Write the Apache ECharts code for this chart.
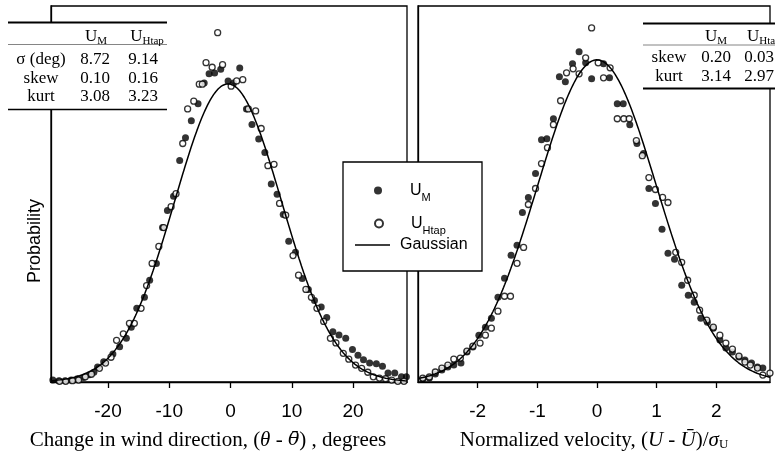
<!DOCTYPE html>
<html>
<head>
<meta charset="utf-8">
<script src="https://cdn.jsdelivr.net/npm/echarts@6/dist/echarts.min.js"></script>
<style>
  html, body { margin: 0; padding: 0; background: #fff; }
  #chart { width: 775px; height: 456px; }
</style>
</head>
<body>
<div id="chart"></div>
<script>
// Wind direction change histogram: [θ - θ̄ (degrees), probability density]
const dirMeasured = [
  [-29.0, 0.0003], [-28.0, 0.0002], [-27.0, 0.0002], [-26.0, 0.0003], [-25.0, 0.0005],
  [-24.0, 0.0007], [-23.0, 0.0011], [-22.3, 0.0015], [-21.7, 0.0023], [-20.7, 0.0031],
  [-19.2, 0.0043], [-18.1, 0.0054], [-17.0, 0.0067], [-16.2, 0.0084], [-15.3, 0.0113],
  [-14.05, 0.0130], [-13.2, 0.0156], [-12.1, 0.0182], [-11.1, 0.0237], [-10.3, 0.0263],
  [-9.3, 0.0285], [-8.3, 0.0340], [-7.35, 0.0375], [-6.4, 0.0401], [-5.3, 0.0427],
  [-4.3, 0.0459], [-3.5, 0.0473], [-2.6, 0.0474], [-1.6, 0.0480], [-0.4, 0.0462],
  [0.5, 0.0459], [1.5, 0.0482], [2.6, 0.0419], [3.5, 0.0395], [4.6, 0.0373],
  [5.6, 0.0352], [6.65, 0.0304], [7.6, 0.0288], [8.6, 0.0257], [9.5, 0.0216],
  [10.6, 0.0199], [11.7, 0.0159], [12.7, 0.0142], [13.7, 0.0125], [14.8, 0.0115],
  [15.7, 0.0099], [16.7, 0.0077], [17.7, 0.0072], [18.8, 0.0067], [19.9, 0.0050],
  [20.8, 0.0041], [21.7, 0.0034], [22.7, 0.0029], [23.8, 0.0028], [24.8, 0.0024],
  [25.7, 0.0014], [26.8, 0.0014], [27.9, 0.0008], [28.7, 0.0008]
];
const dirHtap = [
  [-27.9, 0.0001], [-26.9, 0.0001], [-25.8, 0.0002], [-24.8, 0.0003], [-23.7, 0.0008],
  [-22.7, 0.0012], [-21.4, 0.0021], [-20.4, 0.0029], [-19.5, 0.0038], [-18.6, 0.0064],
  [-17.5, 0.0074], [-16.5, 0.0090], [-15.7, 0.0090], [-14.6, 0.0113], [-13.7, 0.0148],
  [-12.8, 0.0182], [-11.7, 0.0208], [-10.9, 0.0237], [-9.7, 0.0269], [-8.9, 0.0289],
  [-7.8, 0.0366], [-7.0, 0.0419], [-6.0, 0.0431], [-5.1, 0.0457], [-4.6, 0.0457],
  [-4.0, 0.0490], [-3.0, 0.0483], [-2.1, 0.0536], [-1.3, 0.0487], [0.1, 0.0454],
  [1.0, 0.0462], [2.0, 0.0464], [2.9, 0.0419], [4.1, 0.0416], [5.0, 0.0389],
  [6.1, 0.0332], [7.1, 0.0334], [8.0, 0.0274], [9.0, 0.0256], [10.2, 0.0194],
  [11.1, 0.0164], [12.3, 0.0142], [13.2, 0.0130], [14.1, 0.0113], [15.2, 0.0093],
  [16.3, 0.0067], [17.2, 0.0060], [18.4, 0.0044], [19.3, 0.0035], [20.4, 0.0026],
  [21.4, 0.0021], [22.4, 0.0015], [23.3, 0.0008], [24.3, 0.0006], [25.3, 0.0005],
  [26.3, 0.0003], [27.3, 0.0001], [28.3, 0.0001]
];

// Normalized velocity histogram: [(U - Ū)/σU, probability density]
const velMeasured = [
  [-2.92, 0.0037], [-2.81, 0.0049], [-2.71, 0.0099], [-2.60, 0.0148], [-2.50, 0.0185],
  [-2.40, 0.0210], [-2.28, 0.0235], [-2.18, 0.0371], [-2.08, 0.0432], [-1.98, 0.0580],
  [-1.87, 0.0679], [-1.77, 0.0790], [-1.66, 0.1050], [-1.55, 0.1284], [-1.44, 0.1568],
  [-1.34, 0.1692], [-1.25, 0.2100], [-1.15, 0.2285], [-1.03, 0.2581], [-0.93, 0.3001],
  [-0.84, 0.3013], [-0.73, 0.3260], [-0.63, 0.3779], [-0.53, 0.3717], [-0.41, 0.3940],
  [-0.30, 0.4088], [-0.19, 0.3952], [-0.09, 0.3754], [0.11, 0.3940], [0.21, 0.3767],
  [0.34, 0.3446], [0.44, 0.3446], [0.55, 0.3186], [0.67, 0.2952], [0.78, 0.2828],
  [0.87, 0.2396], [0.98, 0.2211], [1.09, 0.1890], [1.19, 0.1593], [1.30, 0.1519],
  [1.42, 0.1198], [1.53, 0.1074], [1.63, 0.0988], [1.74, 0.0790], [1.85, 0.0741],
  [1.95, 0.0667], [2.06, 0.0519], [2.16, 0.0420], [2.27, 0.0371], [2.38, 0.0309],
  [2.48, 0.0272], [2.59, 0.0235], [2.69, 0.0185], [2.78, 0.0173], [2.91, 0.0148]
];
const velHtap = [
  [-2.92, 0.0049], [-2.81, 0.0062], [-2.71, 0.0124], [-2.60, 0.0173], [-2.50, 0.0210],
  [-2.40, 0.0284], [-2.29, 0.0296], [-2.18, 0.0383], [-2.08, 0.0445], [-1.96, 0.0482],
  [-1.87, 0.0580], [-1.77, 0.0667], [-1.66, 0.0877], [-1.55, 0.1062], [-1.45, 0.1062],
  [-1.34, 0.1470], [-1.23, 0.1667], [-1.15, 0.2198], [-1.03, 0.2396], [-0.93, 0.2705],
  [-0.83, 0.2902], [-0.73, 0.3186], [-0.61, 0.3483], [-0.51, 0.3829], [-0.40, 0.3878],
  [-0.30, 0.3816], [-0.19, 0.4014], [-0.09, 0.4384], [0.02, 0.3952], [0.11, 0.3767],
  [0.22, 0.3890], [0.34, 0.3260], [0.45, 0.3260], [0.54, 0.3260], [0.66, 0.2989],
  [0.76, 0.2803], [0.87, 0.2532], [0.98, 0.2384], [1.10, 0.2285], [1.19, 0.2223],
  [1.32, 0.1606], [1.42, 0.1482], [1.52, 0.1260], [1.63, 0.1074], [1.72, 0.0889],
  [1.84, 0.0766], [1.95, 0.0679], [2.06, 0.0580], [2.16, 0.0482], [2.27, 0.0408],
  [2.38, 0.0321], [2.48, 0.0247], [2.57, 0.0210], [2.69, 0.0173], [2.78, 0.0086],
  [2.90, 0.0111]
];

const dirTicks = [-20, -10, 0, 10, 20];
const velTicks = [-2, -1, 0, 1, 2];

// Gaussian reference curves (normal pdf with the listed mean / standard deviation)
const dirGauss = { mean: -0.4, sigma: 8.72 };
const velGauss = { mean: 0, sigma: 1 };

// Moment tables printed in the panel corners
const tableHeads = ['M', 'Htap'];
const dirStatsRows = [['σ (deg)', '8.72', '9.14'], ['skew', '0.10', '0.16'], ['kurt', '3.08', '3.23']];
const velStatsRows = [['skew', '0.20', '0.03'], ['kurt', '3.14', '2.97']];

function gaussianCurve(g, lo, hi, steps) {
  const pts = [];
  for (let i = 0; i <= steps; i++) {
    const x = lo + (hi - lo) * i / steps;
    const z = (x - g.mean) / g.sigma;
    pts.push([x, Math.exp(-0.5 * z * z) / (g.sigma * Math.sqrt(2 * Math.PI))]);
  }
  return pts;
}

const SANS = '"Liberation Sans", Arial, sans-serif';
const SERIF = '"Liberation Serif", "Times New Roman", serif';
const BLACK = '#000';

const DIR_MIN = -29.3, DIR_MAX = 28.8;
const VEL_MIN = -3.0, VEL_MAX = 2.9;

function xAxisFor(idx, min, max, ticks, nameRich, namePad) {
  return {
    type: 'value', gridIndex: idx, min: min, max: max,
    axisLine: { show: true, onZero: false, lineStyle: { color: BLACK, width: 1.3 } },
    axisTick: { show: true, customValues: ticks, length: 6, inside: false, lineStyle: { color: BLACK, width: 1.3 } },
    axisLabel: { show: true, customValues: ticks, color: BLACK, fontFamily: SANS, fontSize: 19, margin: 20 },
    splitLine: { show: false },
    name: nameRich, nameLocation: 'middle', nameGap: 48,
    nameTextStyle: {
      color: BLACK, fontFamily: SERIF, fontSize: 21, padding: namePad,
      rich: {
        r: { fontFamily: SERIF, fontSize: 21, color: BLACK },
        i: { fontFamily: SERIF, fontSize: 21, fontStyle: 'italic', color: BLACK },
        ib: { fontFamily: '"DejaVu Serif", serif', fontSize: 19, fontStyle: 'italic', color: BLACK },
        sub: { fontFamily: SERIF, fontSize: 13, color: BLACK, verticalAlign: 'bottom', lineHeight: 14 }
      }
    }
  };
}

function yAxisFor(idx, max, name) {
  return {
    type: 'value', gridIndex: idx, min: 0, max: max,
    axisLine: { show: true, onZero: false, lineStyle: { color: BLACK, width: 1.3 } },
    axisTick: { show: false }, axisLabel: { show: false }, splitLine: { show: false },
    name: name, nameLocation: 'middle', nameRotate: 90, nameGap: 7,
    nameTextStyle: { color: BLACK, fontFamily: SANS, fontSize: 18, padding: [0, 94, 0, 0] }
  };
}

function filledSeries(idx, data) {
  return {
    type: 'scatter', name: 'U_M', xAxisIndex: idx, yAxisIndex: idx, data: data,
    symbol: 'circle', symbolSize: 7, itemStyle: { color: BLACK }, z: 3
  };
}
function openSeries(idx, data) {
  return {
    type: 'scatter', name: 'U_Htap', xAxisIndex: idx, yAxisIndex: idx, data: data,
    symbol: 'circle', symbolSize: 6,
    itemStyle: { color: '#fff', borderColor: BLACK, borderWidth: 1.3 }, z: 4
  };
}
function gaussSeries(idx, data) {
  return {
    type: 'line', name: 'Gaussian', xAxisIndex: idx, yAxisIndex: idx, data: data,
    symbol: 'none', smooth: false, lineStyle: { color: BLACK, width: 1.5 },
    itemStyle: { color: BLACK }, z: 5, silent: true
  };
}

// Build a moment table (lines + text) as graphic elements
function statsTable(cfg) {
  const els = [];
  els.push({ type: 'rect', shape: { x: cfg.x0, y: cfg.yTop, width: cfg.x1 - cfg.x0, height: cfg.yBottom - cfg.yTop },
    style: { fill: '#fff' }, z: 50 });
  els.push({ type: 'line', shape: { x1: cfg.x0, y1: cfg.yTop, x2: cfg.x1, y2: cfg.yTop },
    style: { stroke: BLACK, lineWidth: cfg.topW }, z: 52 });
  els.push({ type: 'line', shape: { x1: cfg.x0, y1: cfg.yRule, x2: cfg.x1, y2: cfg.yRule },
    style: { stroke: '#666', lineWidth: 0.8 }, z: 52 });
  els.push({ type: 'line', shape: { x1: cfg.x0, y1: cfg.yBottom, x2: cfg.x1, y2: cfg.yBottom },
    style: { stroke: BLACK, lineWidth: cfg.bottomW }, z: 52 });
  tableHeads.forEach(function (h, k) {
    els.push({ type: 'text', x: cfg.headX[k], y: cfg.yHead, z: 53,
      style: { text: '{u|U}{s|' + h + '}', align: cfg.headAlign[k], verticalAlign: 'middle',
        rich: {
          u: { fontFamily: SERIF, fontSize: 17, lineHeight: 20, fill: BLACK },
          s: { fontFamily: SERIF, fontSize: 11, lineHeight: 14, verticalAlign: 'bottom', fill: BLACK }
        } } });
  });
  cfg.rows.forEach(function (row, r) {
    row.forEach(function (cell, c) {
      els.push({ type: 'text', x: cfg.colX[c], y: cfg.rowY[r], z: 53,
        style: { text: cell, font: '17px ' + SERIF, fill: BLACK, align: 'center', verticalAlign: 'middle' } });
    });
  });
  return els;
}

const graphics = []
  .concat(statsTable({
    x0: 8, x1: 167, yTop: 22.5, yRule: 44.5, yBottom: 109.5, topW: 2, bottomW: 1.3,
    headX: [96, 147], headAlign: ['center', 'center'], yHead: 37,
    colX: [41, 95, 143], rowY: [60, 78.5, 97], rows: dirStatsRows
  }))
  .concat(statsTable({
    x0: 643, x1: 776, yTop: 23.5, yRule: 45, yBottom: 88.5, topW: 2, bottomW: 2,
    headX: [716, 747], headAlign: ['center', 'left'], yHead: 37,
    colX: [669, 716, 759], rowY: [58, 77], rows: velStatsRows
  }))
  // legend frame
  .concat([{ type: 'rect', shape: { x: 343, y: 162, width: 139, height: 109 },
    style: { fill: '#fff', stroke: BLACK, lineWidth: 1.3 }, z: 15 }]);

const legendRich = {
  u: { fontFamily: SANS, fontSize: 16, lineHeight: 24, padding: [0, 0, 0, 12], color: BLACK },
  s: { fontFamily: SANS, fontSize: 11, lineHeight: 10, padding: [14, 0, 0, 0], color: BLACK },
  g: { fontFamily: SANS, fontSize: 16, lineHeight: 16, padding: [0, 0, 0, 5], color: BLACK }
};
function legendItem(name, left, top, iconW, iconH, icon) {
  const item = icon ? { name: name, icon: icon } : name;
  return {
    show: true, left: left, top: top, orient: 'vertical', padding: 0,
    data: [item], itemWidth: iconW, itemHeight: iconH, z: 20,
    selectedMode: false,
    formatter: function (n) {
      if (n === 'U_M') return '{u|U}{s|M}';
      if (n === 'U_Htap') return '{u|U}{s|Htap}';
      return '{g|' + n + '}';
    },
    textStyle: { color: BLACK, rich: legendRich }
  };
}

const chart = echarts.init(document.getElementById('chart'), null, { renderer: 'canvas' });
chart.setOption({
  animation: false,
  backgroundColor: '#fff',
  grid: [
    { left: 51, top: 6, width: 356, height: 376, show: true, borderColor: BLACK, borderWidth: 1.3, backgroundColor: 'transparent' },
    { left: 418, top: 6, width: 352, height: 376, show: true, borderColor: BLACK, borderWidth: 1.3, backgroundColor: 'transparent' }
  ],
  xAxis: [
    xAxisFor(0, DIR_MIN, DIR_MAX, dirTicks,
      '{r|Change in wind direction, (}{i|θ}{r| - }{ib|θ\u0304}{r|) , degrees}', [0, 42, 0, 0]),
    xAxisFor(1, VEL_MIN, VEL_MAX, velTicks,
      '{r|Normalized velocity, (}{i|U}{r| - }{i|Ū}{r|)/}{i|σ}{sub|U}', [0, 0, 0, 0])
  ],
  yAxis: [yAxisFor(0, 0.0577, 'Probability'), yAxisFor(1, 0.4656, '')],
  legend: [
    legendItem('U_M', 374, 178, 30, 8),
    legendItem('U_Htap', 374, 211, 30, 8),
    legendItem('Gaussian', 355, 237, 35, 1.5, 'rect')
  ],
  graphic: { elements: graphics },
  series: [
    filledSeries(0, dirMeasured),
    openSeries(0, dirHtap),
    gaussSeries(0, gaussianCurve(dirGauss, DIR_MIN, DIR_MAX, 300)),
    filledSeries(1, velMeasured),
    openSeries(1, velHtap),
    gaussSeries(1, gaussianCurve(velGauss, VEL_MIN, VEL_MAX, 300))
  ]
});
</script>
</body>
</html>
